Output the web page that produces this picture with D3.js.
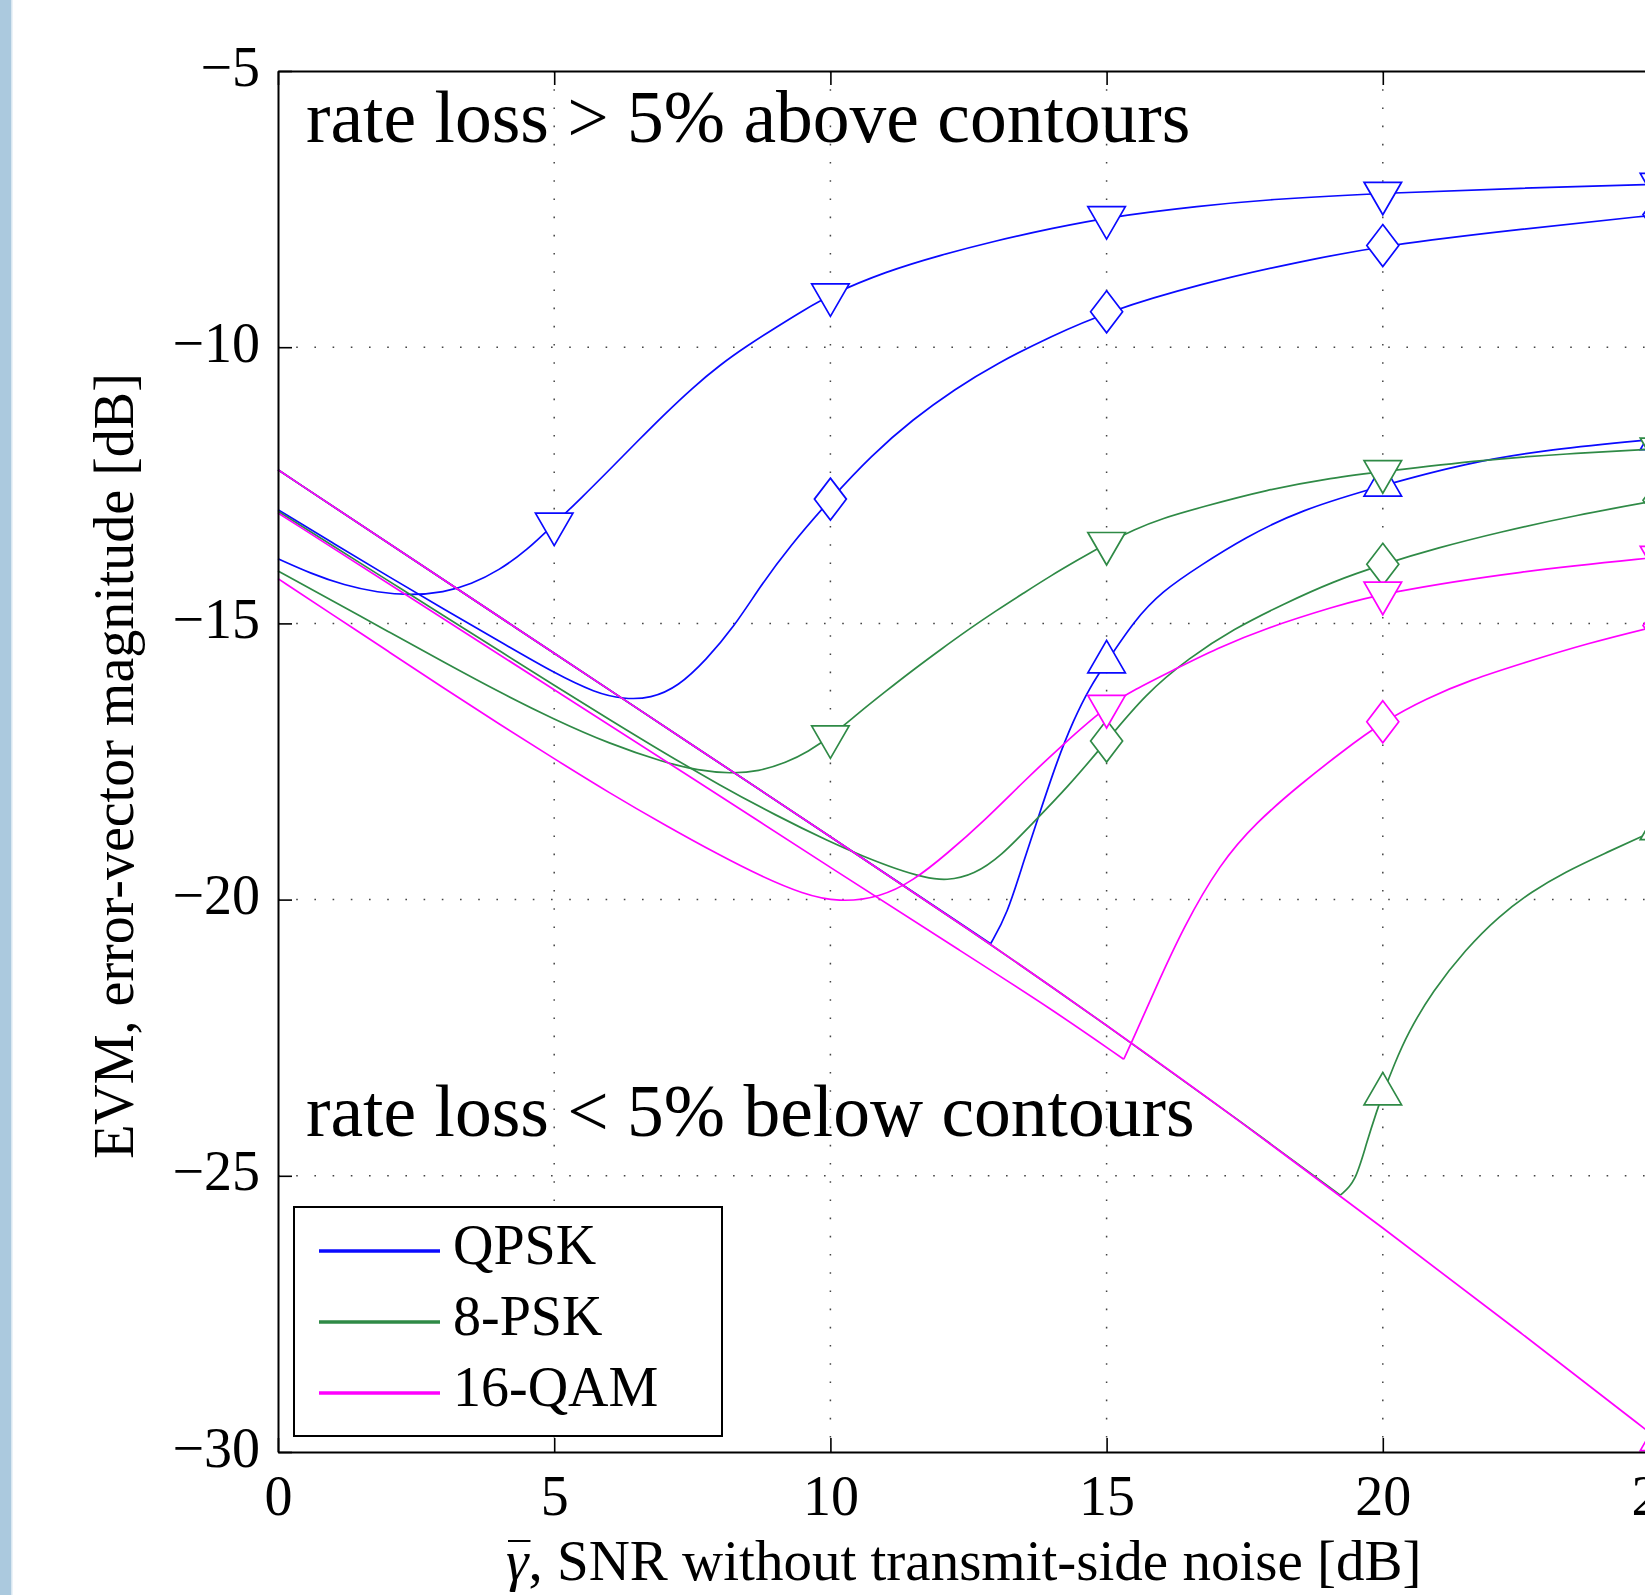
<!DOCTYPE html>
<html>
<head>
<meta charset="utf-8">
<script src="https://cdn.jsdelivr.net/npm/d3@7"></script>
<style>
  body { margin:0; background:#fff; }
  svg { display:block; }
  text { font-family: "Liberation Serif", "Times New Roman", serif; fill:#000; }
</style>
</head>
<body>
<div id="canvas"></div>
<script>
// axis ticks
var xTicks = [0,5,10,15,20,25];
var yTicks = [-30,-25,-20,-15,-10,-5];
var modNames = ['QPSK','8-PSK','16-QAM'];
var modColors = ['#0a0aff','#2f8a46','#ff00ff'];

// the shared floor the up-triangle contours run along (SNR dB, EVM dB)
var floorLine = [[0,-12.22],[2.5,-13.88],[5,-15.54],[7.5,-17.2],[10,-18.86],[12.5,-20.53],
  [15,-22.27],[17.5,-24.07],[20,-25.94],[22.5,-27.84],[25,-29.78]];

// QPSK
var qpskDown = [[0,-13.83],[0.6,-14.1],[1.2,-14.31],[1.8,-14.44],[2.4,-14.49],[3,-14.44],[3.5,-14.29],
  [4,-14.04],[4.5,-13.68],[5,-13.2],[5.5,-12.72],[6,-12.22],[6.5,-11.71],[7,-11.21],[7.5,-10.74],
  [8,-10.32],[8.5,-9.97],[9,-9.65],[9.5,-9.34],[10,-9.05],[11,-8.63],[12,-8.33],[13,-8.07],[14,-7.85],
  [15,-7.65],[16.7,-7.44],[18,-7.32],[20,-7.21],[22.5,-7.12],[25,-7.05]];
var qpskDiamond = [[0,-12.94],[1,-13.55],[2,-14.15],[3,-14.74],[4,-15.32],[5,-15.9],[5.75,-16.26],
  [6.25,-16.37],[6.75,-16.36],[7.25,-16.14],[7.75,-15.66],[8.25,-15.07],[8.75,-14.3],[9.25,-13.62],
  [10,-12.75],[10.75,-11.95],[11.5,-11.3],[12.25,-10.76],[13,-10.3],[14,-9.8],[15,-9.36],[16.7,-8.85],
  [18.5,-8.45],[20,-8.16],[22.5,-7.86],[25,-7.6]];
var qpskUpRise = [[12.9,-20.8],[13.2,-20.27],[13.5,-19.3],[13.8,-18.4],[14.1,-17.5],[14.4,-16.75],
  [14.7,-16.15],[15,-15.7],[15.5,-14.95],[16,-14.42],[16.7,-13.95],[17.5,-13.45],[18.5,-12.95],
  [20,-12.5],[21.5,-12.1],[23,-11.85],[25,-11.66]];

// 8-PSK
var pskDown = [[0,-14.05],[1,-14.6],[2,-15.15],[3,-15.7],[4,-16.24],[5,-16.74],[6,-17.18],[7,-17.52],
  [7.6,-17.66],[8.2,-17.72],[8.7,-17.68],[9.2,-17.52],[9.6,-17.32],[10,-17.05],[10.5,-16.63],
  [11,-16.23],[11.5,-15.84],[12,-15.47],[12.5,-15.11],[13,-14.77],[13.5,-14.45],[14,-14.13],
  [14.5,-13.84],[15,-13.55],[15.5,-13.3],[16,-13.1],[16.7,-12.9],[17.9,-12.58],[19.1,-12.36],
  [20,-12.25],[21.8,-12.04],[23.3,-11.93],[25,-11.84]];
var pskDiamond = [[0,-12.97],[1,-13.6],[2,-14.23],[3,-14.86],[4,-15.49],[5,-16.12],[6,-16.74],[7,-17.35],
  [8,-17.93],[9,-18.47],[10,-18.96],[10.6,-19.22],[11.2,-19.45],[11.7,-19.6],[12.1,-19.66],[12.6,-19.55],
  [13.1,-19.2],[13.6,-18.68],[14.3,-17.96],[15,-17.13],[15.7,-16.28],[16.5,-15.62],[17.3,-15.1],
  [18.2,-14.65],[19.1,-14.24],[20,-13.93],[21,-13.63],[22.1,-13.35],[23.5,-13.04],[25,-12.77]];
var pskUpRise = [[19.23,-25.35],[19.5,-25.13],[19.7,-24.42],[19.9,-23.8],[20,-23.52],[20.2,-23.0],
  [20.45,-22.42],[20.9,-21.66],[21.5,-20.9],[22.1,-20.3],[22.7,-19.85],[23.3,-19.5],[24,-19.17],
  [24.75,-18.83],[25,-18.72]];

// 16-QAM (its up-triangle contour stays on the floor)
var qamDown = [[0,-14.19],[1,-14.85],[2,-15.51],[3,-16.17],[4,-16.82],[5,-17.45],[6,-18.07],[7,-18.65],
  [8,-19.2],[8.75,-19.58],[9.5,-19.9],[10.15,-20.05],[10.9,-19.96],[11.5,-19.66],[12.1,-19.18],
  [12.8,-18.56],[13.5,-17.86],[14.2,-17.2],[15,-16.5],[15.5,-16.2],[16.2,-15.85],[17,-15.45],
  [17.9,-15.08],[19.1,-14.7],[20,-14.45],[22.5,-14.05],[25,-13.8]];
var qamDiamond = [[0,-13.0],[2.5,-14.6],[5,-16.2],[7.5,-17.8],[10,-19.42],[12.5,-21.02],[14,-21.98],
  [15.31,-22.89],[15.47,-22.55],[15.87,-21.64],[16.39,-20.5],[17.05,-19.35],[17.71,-18.6],
  [18.5,-17.92],[19.25,-17.33],[20,-16.78],[20.8,-16.35],[21.6,-16.02],[22.5,-15.73],[23.7,-15.36],[25,-15.04]];

function onFloor(rise){
  return floorLine.filter(function(p){ return p[0] < rise[0][0]; }).concat(rise);
}

var series = [
  {mod:0, marker:'v', pts:qpskDown,    kink:null,  marks:[5,10,15,20,25]},
  {mod:0, marker:'d', pts:qpskDiamond, kink:null,  marks:[10,15,20,25]},
  {mod:0, marker:'^', pts:onFloor(qpskUpRise), kink:qpskUpRise[0][0], marks:[15,20,25]},
  {mod:1, marker:'v', pts:pskDown,     kink:null,  marks:[10,15,20,25]},
  {mod:1, marker:'d', pts:pskDiamond,  kink:null,  marks:[15,20,25]},
  {mod:1, marker:'^', pts:onFloor(pskUpRise), kink:pskUpRise[0][0], marks:[20,25]},
  {mod:2, marker:'v', pts:qamDown,     kink:null,  marks:[15,20,25]},
  {mod:2, marker:'d', pts:qamDiamond,  kink:15.31, marks:[20,25]},
  {mod:2, marker:'^', pts:floorLine,   kink:null,  marks:[25]}
];

var outerWidth = 1645, outerHeight = 1595;
var m = {t:71, l:278};
var w = 1381, h = 1381;

var svg = d3.select('#canvas').append('svg')
    .attr('width',outerWidth).attr('height',outerHeight);

// blue page edge on the left
svg.append('rect').attr('x',0).attr('y',0).attr('width',11).attr('height',outerHeight).style('fill','#abc9de');
svg.append('rect').attr('x',11).attr('y',0).attr('width',1.5).attr('height',outerHeight).style('fill','#d9e7f1');

var plot = svg.append('g').attr('transform','translate(' + m.l + ',' + m.t + ')');

var scaleX = d3.scaleLinear().domain([0,25]).range([0,w]);
var scaleY = d3.scaleLinear().domain([-30,-5]).range([h,0]);

// dotted grid
plot.selectAll('.gx').data(xTicks.slice(1)).enter().append('line')
    .attr('x1',function(d){return scaleX(d);}).attr('x2',function(d){return scaleX(d);})
    .attr('y1',0).attr('y2',h)
    .style('stroke','#444').style('stroke-width',1.5).style('stroke-dasharray','1.6 16.6');
plot.selectAll('.gy').data(yTicks.slice(1,-1)).enter().append('line')
    .attr('x1',0).attr('x2',w)
    .attr('y1',function(d){return scaleY(d);}).attr('y2',function(d){return scaleY(d);})
    .style('stroke','#444').style('stroke-width',1.5).style('stroke-dasharray','1.6 16.6');

// curves and markers (basis spline irons out reading noise)
var line = d3.line()
    .x(function(d){return scaleX(d[0]);})
    .y(function(d){return scaleY(d[1]);})
    .curve(d3.curveBasis);

function markerPath(type){
  if (type === 'd') return 'M0,-21L16,0L0,21L-16,0Z';
  if (type === 'v') return 'M-18.75,-10.8L18.75,-10.8L0,21.7Z';
  return 'M-18.75,10.8L18.75,10.8L0,-21.7Z';
}

series.forEach(function(s){
  var col = modColors[s.mod];
  var parts = s.kink === null ? [s.pts] : [
    s.pts.filter(function(p){return p[0] <= s.kink;}),
    s.pts.filter(function(p){return p[0] >= s.kink;})
  ];
  parts.forEach(function(part){
    plot.append('path').attr('d', line(part))
        .style('fill','none').style('stroke',col).style('stroke-width',1.7);
  });
  s.marks.forEach(function(mx){
    var p = s.pts.filter(function(q){return q[0] === mx;})[0];
    plot.append('path')
        .attr('transform','translate(' + scaleX(p[0]) + ',' + scaleY(p[1]) + ')')
        .attr('d', markerPath(s.marker))
        .style('fill','#fff').style('stroke',col).style('stroke-width',1.7);
  });
});

// axes, ticks point inward
var axisY = d3.axisLeft(scaleY).tickValues(yTicks).tickSizeInner(-14).tickSizeOuter(0).tickPadding(18);
var axisX = d3.axisBottom(scaleX).tickValues(xTicks).tickSizeInner(-14).tickSizeOuter(0).tickPadding(23);
var axisTop = d3.axisTop(scaleX).tickValues(xTicks).tickSizeInner(-14).tickSizeOuter(0).tickFormat('');

var gy = plot.append('g').attr('class','axis').call(axisY);
var gx = plot.append('g').attr('class','axis').attr('transform','translate(0,' + h + ')').call(axisX);
var gt = plot.append('g').attr('class','axis').call(axisTop);
plot.append('line').attr('x1',w).attr('x2',w).attr('y1',0).attr('y2',h).style('stroke','#000').style('stroke-width',2);

[gy,gx,gt].forEach(function(g){
  g.attr('font-size',56).attr('font-family',null);
  g.select('.domain').style('stroke','#000').style('stroke-width',2);
  g.selectAll('.tick line').style('stroke','#000').style('stroke-width',1.6);
});
gy.selectAll('text').attr('dy','0.25em');

// region notes
plot.append('text').attr('x',28).attr('y',71).style('font-size','73.5px')
    .text('rate loss > 5% above contours');
plot.append('text').attr('x',28).attr('y',1065).style('font-size','73.5px')
    .text('rate loss < 5% below contours');

// axis titles
svg.append('text').attr('transform','translate(133,766) rotate(-90)')
    .attr('text-anchor','middle').style('font-size','56px')
    .text('EVM, error-vector magnitude [dB]');

var xl = svg.append('text').attr('x',506).attr('y',1580).style('font-size','57px');
xl.append('tspan').style('font-style','italic').text('\u03b3');
xl.append('tspan').text(', SNR without transmit-side noise [dB]');
var gBox = xl.node().getExtentOfChar(0);
svg.append('line').attr('x1',gBox.x + 2).attr('x2',gBox.x + gBox.width + 2)
    .attr('y1',1541).attr('y2',1541).style('stroke','#000').style('stroke-width',2);

// legend
var leg = svg.append('g');
leg.append('rect').attr('x',294).attr('y',1207).attr('width',428).attr('height',229)
    .style('fill','#fff').style('stroke','#000').style('stroke-width',2);
modNames.forEach(function(name,i){
  var yy = 1251 + i*71;
  leg.append('line').attr('x1',319).attr('x2',440).attr('y1',yy).attr('y2',yy)
      .style('stroke',modColors[i]).style('stroke-width',3.5);
  leg.append('text').attr('x',453).attr('y',yy + 13).style('font-size','56px').text(name);
});
</script>
</body>
</html>
